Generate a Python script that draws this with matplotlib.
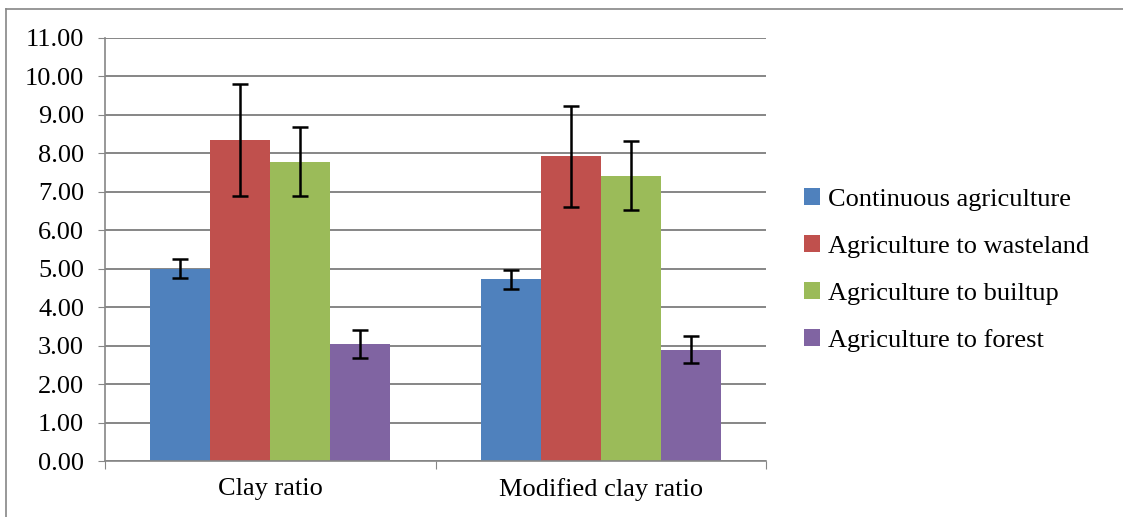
import numpy as np
import matplotlib.pyplot as plt
from matplotlib.lines import Line2D

plt.rcParams['font.family'] = ['Liberation Serif', 'DejaVu Serif']

categories = ["Clay ratio", "Modified clay ratio"]
series = ["Continuous agriculture", "Agriculture to wasteland",
          "Agriculture to builtup", "Agriculture to forest"]
values = [
    [5.00, 4.72],
    [8.35, 7.92],
    [7.78, 7.42],
    [3.05, 2.89],
]
errors = [
    [0.25, 0.24],
    [1.45, 1.31],
    [0.90, 0.90],
    [0.36, 0.35],
]
colors = ["#4F81BD", "#C0504D", "#9BBB59", "#8064A2"]
yticks = np.arange(0, 11.01, 1.0)

fig = plt.figure(figsize=(11.23, 5.17), dpi=100)
ax = fig.add_axes([105/1123, 1-461/517, (766-105)/1123, (461-38)/517])

x = np.arange(len(categories))
w = 0.725 / 4
for i in range(4):
    pos = x + (i - 1.5) * w
    ax.bar(pos, values[i], width=w, color=colors[i], label=series[i], zorder=2)
    ax.errorbar(pos, values[i], yerr=errors[i], fmt='none', ecolor='black',
                elinewidth=1.8, capsize=6, capthick=1.8, zorder=3)

ax.set_xlim(-0.5, 1.5)
ax.set_ylim(0, 11)
ax.set_yticks(yticks)
ax.set_yticklabels([f"{v:.2f}" for v in yticks], fontsize=19)
ax.set_xticks([-0.5, 0.5, 1.5], minor=False)
ax.set_xticklabels([])
ax.set_xticks(x, minor=True)
ax.set_xticklabels(categories, minor=True, fontsize=19)
ax.tick_params(axis='x', which='minor', length=0, pad=12)
ax.tick_params(axis='x', which='major', length=6, color='#868686', direction='out')
ax.tick_params(axis='y', length=5, color='#868686', direction='out', pad=10)

ax.grid(axis='y', color='#868686', linewidth=1.4, zorder=0)
ax.set_axisbelow(True)
for s in ['top', 'right']:
    ax.spines[s].set_visible(False)
for s in ['left', 'bottom']:
    ax.spines[s].set_color('#868686')
    ax.spines[s].set_linewidth(1.2)

leg = ax.legend(loc='center left', bbox_to_anchor=(780/1123, 1-270/517),
                bbox_transform=fig.transFigure, frameon=False, fontsize=19,
                handlelength=0.6, handleheight=0.6, handletextpad=0.3,
                labelspacing=0.92)

# outer border (left and top edges visible)
fig.add_artist(Line2D([6/1123, 6/1123], [0, 1-9/517], transform=fig.transFigure,
                      color='#868686', linewidth=1.2))
fig.add_artist(Line2D([6/1123, 1], [1-9/517, 1-9/517], transform=fig.transFigure,
                      color='#868686', linewidth=1.2))

fig.savefig("out.png", dpi=100)
